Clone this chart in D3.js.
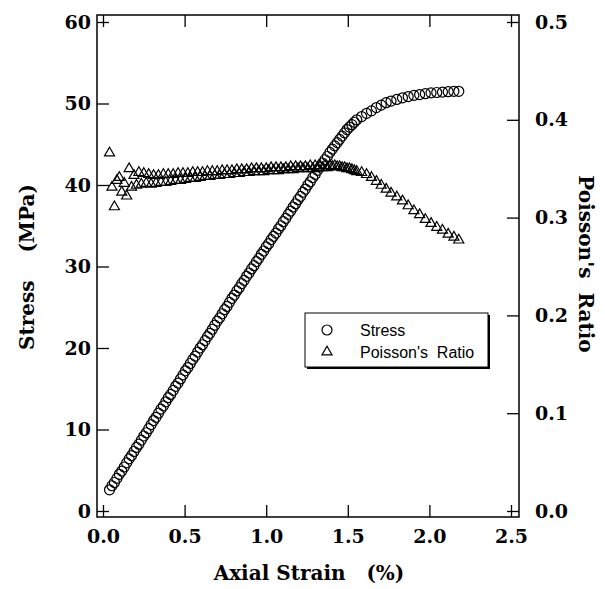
<!DOCTYPE html>
<html lang="en">
<head>
  <meta charset="UTF-8">
  <title>Stress and Poisson's ratio vs axial strain</title>
  <script src="https://d3js.org/d3.v7.min.js"></script>
  <style>
    body { margin: 0; background: #fff; }
    .tick text { font: bold 19px "DejaVu Serif", serif; fill: #000; }
    .tick line { stroke: #000; stroke-width: 1.3px; }
    .title { font: bold 20px "DejaVu Serif", serif; fill: #000; }
    .legend text { font: 16px "Liberation Sans", Arial, sans-serif; fill: #000; }
  </style>
</head>
<body>
  <svg width="605" height="589"></svg>
  <script>
    // axial strain (%) of each reading
    var strain = [0.04,0.055,0.07,0.085,0.10,0.115,0.13,0.145,0.16,0.175,
      0.19,0.205,0.22,0.235,0.25,0.265,0.28,0.295,0.31,0.325,
      0.34,0.355,0.37,0.385,0.40,0.415,0.43,0.445,0.46,0.475,
      0.49,0.505,0.52,0.535,0.55,0.565,0.58,0.595,0.61,0.625,
      0.64,0.655,0.67,0.685,0.70,0.715,0.73,0.745,0.76,0.775,
      0.79,0.805,0.82,0.835,0.85,0.865,0.88,0.895,0.91,0.925,
      0.94,0.955,0.97,0.985,1.00,1.015,1.03,1.045,1.06,1.075,
      1.09,1.105,1.12,1.135,1.15,1.165,1.18,1.195,1.21,1.225,
      1.24,1.255,1.27,1.285,1.30,1.315,1.33,1.345,1.36,1.375,
      1.39,1.405,1.42,1.435,1.45,1.465,1.48,1.495,1.51,1.525,
      1.54,1.555,1.585,1.615,1.645,1.675,1.705,1.735,1.765,1.80,
      1.835,1.87,1.905,1.94,1.975,2.01,2.045,2.08,2.115,2.15,2.18];

    // stress (MPa)
    var stress = [2.6,3.1,3.5,4.0,4.5,4.9,5.4,5.9,6.4,6.8,
      7.3,7.8,8.2,8.7,9.2,9.6,10.1,10.6,11.1,11.5,
      12.0,12.5,12.9,13.4,13.9,14.3,14.8,15.3,15.7,16.2,
      16.7,17.2,17.6,18.1,18.6,19.0,19.5,20.0,20.4,20.9,
      21.4,21.8,22.3,22.8,23.3,23.7,24.2,24.7,25.1,25.6,
      26.1,26.5,27.0,27.4,27.9,28.3,28.8,29.2,29.7,30.1,
      30.6,31.0,31.5,31.9,32.4,32.8,33.3,33.7,34.1,34.6,
      35.0,35.5,35.9,36.4,36.8,37.3,37.7,38.2,38.6,39.1,
      39.5,40.0,40.4,40.9,41.3,41.8,42.2,42.7,43.1,43.5,
      44.0,44.4,44.8,45.2,45.6,46.0,46.4,46.8,47.1,47.4,
      47.7,48.0,48.4,48.8,49.1,49.5,49.8,50.1,50.3,50.5,
      50.7,50.85,51.0,51.1,51.2,51.3,51.35,51.4,51.45,51.5,51.5];

    // Poisson's ratio
    var poisson = [0.366,0.331,0.311,0.338,0.341,0.326,0.335,0.322,0.350,0.331,
      0.343,0.333,0.346,0.334,0.345,0.335,0.344,0.334,0.343,0.335,
      0.343,0.336,0.344,0.336,0.344,0.337,0.344,0.338,0.345,0.338,
      0.345,0.339,0.345,0.340,0.346,0.340,0.346,0.341,0.346,0.342,
      0.347,0.342,0.347,0.343,0.347,0.343,0.348,0.344,0.348,0.344,
      0.348,0.345,0.349,0.345,0.349,0.346,0.349,0.346,0.350,0.347,
      0.350,0.347,0.350,0.347,0.350,0.348,0.351,0.348,0.351,0.348,
      0.351,0.349,0.351,0.349,0.352,0.349,0.352,0.350,0.352,0.350,
      0.352,0.350,0.353,0.350,0.353,0.351,0.353,0.351,0.353,0.351,
      0.353,0.352,0.353,0.352,0.352,0.351,0.351,0.350,0.350,0.349,
      0.348,0.347,0.346,0.344,0.341,0.337,0.333,0.329,0.325,0.321,
      0.317,0.312,0.307,0.303,0.298,0.294,0.290,0.287,0.283,0.280,0.277];

    var xTicks = [0, 0.5, 1.0, 1.5, 2.0, 2.5],
        yTicks = [0, 10, 20, 30, 40, 50, 60],
        rTicks = [0, 0.1, 0.2, 0.3, 0.4, 0.5];

    var svg = d3.select("svg"),
        frame = {left: 97, right: 519, top: 15, bottom: 517},
        tick = 12;

    var x = d3.scaleLinear().domain([0, 2.5]).range([103, 511]);
    var y = d3.scaleLinear().domain([0, 60]).range([511, 22]);
    var yR = d3.scaleLinear().domain([0, 0.5]).range([511, 22]);

    var data = strain.map(function(s, i) {
      return {strain: s, stress: stress[i], poisson: poisson[i]};
    });

    // axes, ticks pointing inward on all four sides
    svg.append("g")
       .attr("transform", "translate(0," + frame.bottom + ")")
       .call(d3.axisBottom(x).tickValues(xTicks).tickFormat(d3.format(".1f"))
             .tickSizeInner(-tick).tickSizeOuter(0).tickPadding(13));
    svg.append("g")
       .attr("transform", "translate(0," + frame.top + ")")
       .call(d3.axisTop(x).tickValues(xTicks).tickFormat("")
             .tickSizeInner(-tick).tickSizeOuter(0));
    svg.append("g")
       .attr("transform", "translate(" + frame.left + ",0)")
       .call(d3.axisLeft(y).tickValues(yTicks)
             .tickSizeInner(-tick).tickSizeOuter(0).tickPadding(6));
    svg.append("g")
       .attr("transform", "translate(" + frame.right + ",0)")
       .call(d3.axisRight(yR).tickValues(rTicks).tickFormat(d3.format(".1f"))
             .tickSizeInner(-tick).tickSizeOuter(0).tickPadding(16));
    svg.selectAll(".domain").remove();

    svg.append("rect")
       .attr("x", frame.left).attr("y", frame.top)
       .attr("width", frame.right - frame.left)
       .attr("height", frame.bottom - frame.top)
       .attr("fill", "none").attr("stroke", "#000").attr("stroke-width", 1.5);

    // Poisson's ratio triangles
    var tri = d3.symbol().type(d3.symbolTriangle).size(44);
    svg.append("g").selectAll("path")
       .data(data).enter().append("path")
       .attr("d", tri)
       .attr("transform", function(d) { return "translate(" + x(d.strain) + "," + yR(d.poisson) + ")"; })
       .attr("fill", "none").attr("stroke", "#000").attr("stroke-width", 1.2);

    // stress circles
    svg.append("g").selectAll("circle")
       .data(data).enter().append("circle")
       .attr("cx", function(d) { return x(d.strain); })
       .attr("cy", function(d) { return y(d.stress); })
       .attr("r", 5)
       .attr("fill", "none").attr("stroke", "#000").attr("stroke-width", 1.2);

    // titles
    svg.append("text").attr("class", "title")
       .attr("x", 309).attr("y", 580).attr("text-anchor", "middle")
       .attr("xml:space", "preserve")
       .text("Axial Strain   (%)");
    svg.append("text").attr("class", "title")
       .attr("transform", "translate(34,267) rotate(-90)")
       .attr("text-anchor", "middle").attr("xml:space", "preserve")
       .text("Stress    (MPa)");
    svg.append("text").attr("class", "title")
       .attr("transform", "translate(579,264) rotate(90)")
       .attr("text-anchor", "middle").attr("xml:space", "preserve")
       .text("Poisson's  Ratio");

    // legend
    var legend = svg.append("g").attr("class", "legend");
    legend.append("rect")
          .attr("x", 307).attr("y", 315).attr("width", 183).attr("height", 54)
          .attr("fill", "#000");
    legend.append("rect")
          .attr("x", 305).attr("y", 313).attr("width", 183).attr("height", 54)
          .attr("fill", "#fff").attr("stroke", "#000").attr("stroke-width", 1);
    legend.append("circle")
          .attr("cx", 327).attr("cy", 330).attr("r", 5)
          .attr("fill", "none").attr("stroke", "#000").attr("stroke-width", 1.2);
    legend.append("path")
          .attr("d", tri)
          .attr("transform", "translate(327,352)")
          .attr("fill", "none").attr("stroke", "#000").attr("stroke-width", 1.2);
    legend.append("text").attr("x", 360).attr("y", 336).text("Stress");
    legend.append("text").attr("x", 360).attr("y", 358)
          .attr("xml:space", "preserve").text("Poisson's  Ratio");
  </script>
</body>
</html>
